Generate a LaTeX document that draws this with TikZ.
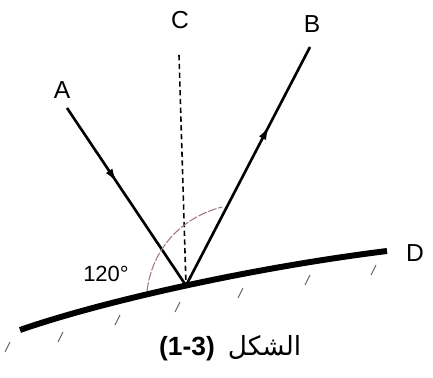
\documentclass[tikz,border=0pt]{standalone}
\usepackage{fontspec}
\setmainfont{Liberation Sans}
\newfontfamily\arabicfont[Script=Arabic]{DejaVu Sans}
\TeXXeTstate=1
\usetikzlibrary{arrows.meta, decorations.markings, positioning}
\definecolor{arcred}{HTML}{A07878}

\begin{document}
\begin{tikzpicture}[
    x=0.02cm, y=-0.02cm,
    lbl/.style={font=\fontsize{14}{16}\selectfont, inner sep=1pt},
    ray/.style={
      line width=1.5pt,
      decoration={markings, mark=at position #1 with {\arrow{Latex[length=8pt,width=4.5pt]}}},
      postaction={decorate}
    },
    normalline/.style={densely dashed, line width=0.9pt},
    surface/.style={line width=3.4pt},
    hatch/.style={line width=0.6pt, black!60},
    anglearc/.style={arcred, line width=0.6pt, dash pattern=on 5pt off 1pt},
  ]
  \useasboundingbox (0,0) rectangle (433,378);

  % mirror surface
  \draw[surface] (20,330) .. controls (100,302) and (250,268) .. (387,251)
    coordinate[pos=0.51] (O) coordinate[pos=1] (d);
  \foreach \x/\y in {7/347, 60/337, 117/320, 177/307, 240/293, 307/280, 373/270}
    \draw[hatch] (\x+3,\y-5) -- (\x-2,\y+5);

  % rays
  \coordinate (a) at (67,108);
  \coordinate (b) at (310,47);
  \coordinate (c) at (179,55);
  \draw[ray=0.42] (a) -- (O);
  \draw[ray=0.67] (O) -- (b);
  \draw[normalline] (c) -- (O);

  % angle
  \draw[anglearc] (147,291) .. controls (152,250) and (180,218) .. (222,207);

  % labels
  \node[lbl] (A) at (62,90) {A};
  \node[lbl] (B) at (312,24) {B};
  \node[lbl] (C) at (180,20) {C};
  \node[lbl] (D) at (415,253) {D};
  \node[lbl, font=\fontsize{12.5}{14}\selectfont] (ang) at (106,274) {120\textdegree};
  \node[font=\fontsize{15}{17}\selectfont\bfseries, inner sep=1pt] (capnum) at (187,349) {(1-3)};
  \node[font=\arabicfont\fontsize{15}{17}\selectfont, inner sep=1pt, base right=5pt of capnum] (cap)
    {\beginR الشكل\endR};
\end{tikzpicture}
\end{document}
